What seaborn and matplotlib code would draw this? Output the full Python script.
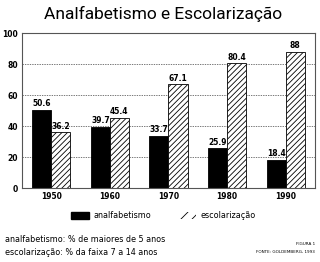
import matplotlib
matplotlib.use("Agg")
import matplotlib.pyplot as plt
import matplotlib.patches as mpatches
import seaborn as sns
import pandas as pd

years = ["1950", "1960", "1970", "1980", "1990"]
analfabetismo = [50.6, 39.7, 33.7, 25.9, 18.4]
escolarizacao = [36.2, 45.4, 67.1, 80.4, 88]
series_names = ["analfabetismo", "escolarização"]

df = pd.DataFrame({
    "ano": years * 2,
    "valor": analfabetismo + escolarizacao,
    "serie": [series_names[0]] * len(years) + [series_names[1]] * len(years),
})

sns.set_style("white")
plt.rcParams["font.family"] = ["DejaVu Sans"]
plt.rcParams["hatch.linewidth"] = 0.6
plt.rcParams["text.color"] = "black"
plt.rcParams["xtick.color"] = "black"
plt.rcParams["ytick.color"] = "black"

fig = plt.figure(figsize=(3.2, 2.62), dpi=100)
ax = fig.add_axes([0.069, 0.282, 0.915, 0.592])

sns.barplot(data=df, x="ano", y="valor", hue="serie", ax=ax,
            palette=["black", "white"], width=0.65, gap=0,
            edgecolor="black", linewidth=0.6, legend=False)

# hatched second series
for bar in ax.containers[1]:
    bar.set_facecolor("white")
    bar.set_hatch("//////")
    bar.set_edgecolor("black")

for cont, vals in zip(ax.containers, [analfabetismo, escolarizacao]):
    ax.bar_label(cont, labels=[f"{v:g}" for v in vals], padding=1,
                 fontsize=5.5, fontweight="bold", color="black")

ax.set_ylim(0, 100)
ax.set_xlim(-0.5, 4.5)
ax.set_yticks([0, 20, 40, 60, 80, 100])
ax.set_xlabel("")
ax.set_ylabel("")
ax.yaxis.grid(True, linestyle=(0, (2, 1.5)), color="#444444", linewidth=0.5)
ax.set_axisbelow(True)
for s in ax.spines.values():
    s.set_color("#555555")
    s.set_linewidth(0.8)
ax.tick_params(axis="both", labelsize=5.5, length=0, pad=3)
for lbl in ax.get_xticklabels() + ax.get_yticklabels():
    lbl.set_fontweight("bold")

fig.text(0.51, 0.945, "Analfabetismo e Escolarização", ha="center", va="center",
         fontsize=12.5, color="black", family=["Roboto", "DejaVu Sans"])

handles = [
    mpatches.Patch(facecolor="black", edgecolor="black", label=series_names[0]),
    mpatches.Patch(facecolor="white", edgecolor="black", linewidth=0,
                   hatch="///", label=series_names[1]),
]
fig.legend(handles=handles, loc="center", bbox_to_anchor=(0.51, 0.178), ncol=2,
           frameon=False, fontsize=5.8, handlelength=2.3, handleheight=1.0,
           columnspacing=3.3, handletextpad=0.5)

fig.text(0.015, 0.085, "analfabetismo: % de maiores de 5 anos", fontsize=5.8,
         va="center", ha="left")
fig.text(0.015, 0.038, "escolarização: % da faixa 7 a 14 anos", fontsize=5.8,
         va="center", ha="left")
fig.text(0.985, 0.07, "FIGURA 1", fontsize=3, ha="right", va="center")
fig.text(0.985, 0.04, "FONTE: GOLDEMBERG, 1993", fontsize=3, ha="right", va="center")

fig.savefig("out.png", dpi=100)
